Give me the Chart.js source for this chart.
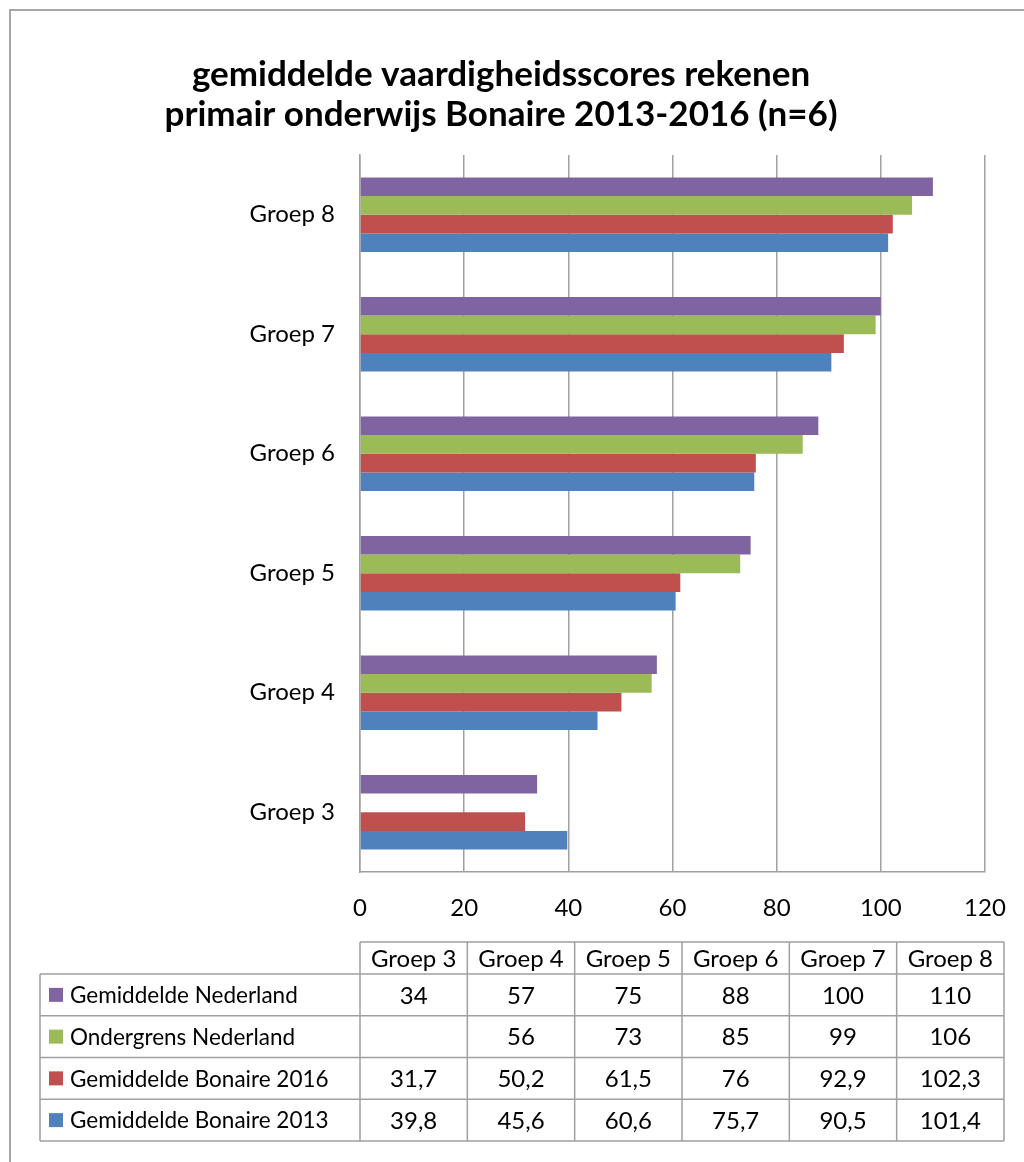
<!DOCTYPE html>
<html>
<head>
<meta charset="utf-8">
<script src="https://cdn.jsdelivr.net/npm/chart.js@4.4.0/dist/chart.umd.min.js"></script>
<style>
  html, body { margin: 0; padding: 0; background: #fff; }
</style>
</head>
<body>
<canvas id="grafiek" width="1024" height="1162"></canvas>
<script>
// gegevens uit de tabel onder de grafiek
const titel = ['gemiddelde vaardigheidsscores rekenen', 'primair onderwijs Bonaire 2013-2016 (n=6)'];
const groepen = ['Groep 3', 'Groep 4', 'Groep 5', 'Groep 6', 'Groep 7', 'Groep 8'];
const reeksen = ['Gemiddelde Nederland', 'Ondergrens Nederland', 'Gemiddelde Bonaire 2016', 'Gemiddelde Bonaire 2013'];
const gemNederland = [34, 57, 75, 88, 100, 110];
const ondergrensNederland = [null, 56, 73, 85, 99, 106];
const gemBonaire2016 = [31.7, 50.2, 61.5, 76, 92.9, 102.3];
const gemBonaire2013 = [39.8, 45.6, 60.6, 75.7, 90.5, 101.4];
const xTicks = [0, 20, 40, 60, 80, 100, 120];

const kleuren = ['#8064A2', '#9BBB59', '#C0504D', '#4F81BD'];
const waarden = [gemNederland, ondergrensNederland, gemBonaire2016, gemBonaire2013];
const grijs = '#a0a0a0';
const lettertype = 'Lato, "Open Sans", sans-serif';

function formatteer(v) {
  if (v === null || v === undefined) return '';
  return String(v).replace('.', ',');
}

// titel, rand en datatabel tekenen
const tabelPlugin = {
  id: 'tabel',
  afterDraw(chart) {
    const ctx = chart.ctx;
    ctx.save();

    // rand om de grafiek
    ctx.strokeStyle = '#a6a6a6';
    ctx.lineWidth = 2;
    ctx.beginPath();
    ctx.moveTo(10, 1162);
    ctx.lineTo(10, 10);
    ctx.lineTo(1024, 10);
    ctx.stroke();

    // titel
    ctx.fillStyle = '#000';
    ctx.font = 'bold 35px ' + lettertype;
    ctx.textAlign = 'center';
    ctx.textBaseline = 'middle';
    titel.forEach((t, i) => ctx.fillText(t, 501, 75 + i * 40));

    // tabel
    const links = 40, midden = 360, rechts = 1004;
    const kolom = (rechts - midden) / groepen.length;
    const kopBoven = 942, kopOnder = 974;
    const rij = (1141 - kopOnder) / reeksen.length;
    const onder = kopOnder + rij * reeksen.length;

    ctx.strokeStyle = grijs;
    ctx.lineWidth = 1.5;
    ctx.beginPath();
    ctx.moveTo(midden, kopBoven); ctx.lineTo(rechts, kopBoven);
    for (let r = 0; r <= reeksen.length; r++) {
      const y = kopOnder + r * rij;
      ctx.moveTo(links, y); ctx.lineTo(rechts, y);
    }
    ctx.moveTo(links, kopOnder); ctx.lineTo(links, onder);
    for (let c = 0; c <= groepen.length; c++) {
      const x = midden + c * kolom;
      ctx.moveTo(x, kopBoven); ctx.lineTo(x, onder);
    }
    ctx.stroke();

    ctx.font = '24px ' + lettertype;
    ctx.fillStyle = '#000';
    ctx.textAlign = 'center';
    groepen.forEach((g, c) => {
      ctx.fillText(g, midden + (c + 0.5) * kolom, (kopBoven + kopOnder) / 2 + 1);
    });

    reeksen.forEach((naam, r) => {
      const yc = kopOnder + (r + 0.5) * rij;
      ctx.fillStyle = kleuren[r];
      ctx.fillRect(49, yc - 7, 14, 14);
      ctx.fillStyle = '#000';
      ctx.textAlign = 'left';
      ctx.font = '22.5px ' + lettertype;
      ctx.fillText(naam, 70, yc + 1);
      ctx.textAlign = 'center';
      ctx.font = '24px ' + lettertype;
      waarden[r].forEach((v, c) => {
        ctx.fillText(formatteer(v), midden + (c + 0.5) * kolom, yc + 1);
      });
    });

    ctx.restore();
  }
};

const ctx = document.getElementById('grafiek').getContext('2d');

const grafiek = new Chart(ctx, {
  type: 'bar',
  data: {
    labels: groepen,
    datasets: reeksen.map((naam, i) => ({
      label: naam,
      data: waarden[i],
      backgroundColor: kleuren[i],
      borderWidth: 0,
      barPercentage: 1,
      categoryPercentage: 0.625
    }))
  },
  options: {
    indexAxis: 'y',
    responsive: false,
    animation: false,
    layout: {
      padding: { top: 155, right: 39, bottom: 230, left: 0 }
    },
    plugins: {
      legend: { display: false },
      tooltip: { enabled: false },
      title: { display: false }
    },
    scales: {
      x: {
        min: 0,
        max: 120,
        afterBuildTicks: s => { s.ticks = xTicks.map(v => ({ value: v })); },
        afterFit: s => { s.height = 60; s.paddingLeft = 0; s.paddingRight = 0; },
        grid: { color: grijs, lineWidth: 1.5, drawTicks: false },
        border: { color: grijs, width: 1.5 },
        ticks: { color: '#000', padding: 22, font: { family: lettertype, size: 24 } }
      },
      y: {
        reverse: true,
        afterFit: s => { s.width = 360; },
        grid: { display: false, drawTicks: false },
        border: { display: true, color: grijs, width: 1.5 },
        ticks: { color: '#000', padding: 25, font: { family: lettertype, size: 24 } }
      }
    }
  },
  plugins: [tabelPlugin]
});
</script>
</body>
</html>
